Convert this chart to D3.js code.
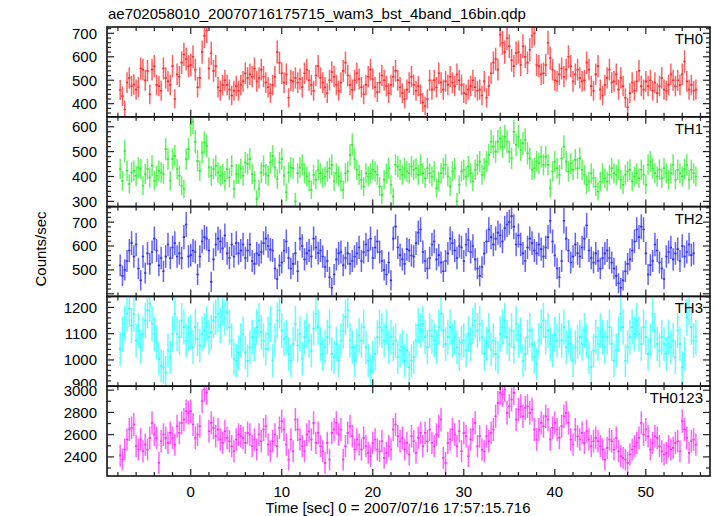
<!DOCTYPE html>
<html><head><meta charset="utf-8">
<script src="https://cdn.jsdelivr.net/npm/d3@7"></script>
<style>
body{margin:0;background:#fff}
svg{display:block}
text{font-family:"Liberation Sans",Arial,Helvetica,sans-serif;font-size:15px;fill:#000}
</style>
</head><body>
<svg id="c" width="717" height="516"></svg>
<script>
// ---------------- data ----------------
const title = "ae702058010_20070716175715_wam3_bst_4band_16bin.qdp";
const xLabel = "Time [sec] 0 = 2007/07/16 17:57:15.716";
const yLabel = "Counts/sec";
const timeStart = -7.75;   // centre of first 0.25 s bin
const binWidth = 0.25;     // seconds per bin (16 x 1/64 s)
const bandNames = ["TH0", "TH1", "TH2", "TH3", "TH0123"];

const th0 = [
458,432,375,490, 510,475,482,460, 470,550,545,500, 540,440,545,560,
480,475,455,550, 510,495,480,560, 420,525,515,575, 610,590,560,565,
600,545,470,510, 620,690,712,550, 615,540,560,470, 455,480,500,480,
460,435,455,475, 455,480,495,530, 510,525,515,550, 495,510,545,515,
490,470,445,480, 515,620,575,530, 490,525,425,500, 495,510,490,505,
470,530,545,500, 480,455,520,560, 510,490,470,445, 500,535,515,480,
455,490,540,575, 520,480,460,500, 530,505,470,440, 480,515,545,505,
470,450,490,520, 500,475,445,480, 515,540,500,470, 445,420,460,490,
515,480,455,475, 440,405,390,420, 500,460,500,470, 530,490,460,495,
480,515,490,475, 525,500,480,445, 440,460,475,500, 470,455,460,435,
495,425,475,530, 575,590,545,695, 660,620,680,645, 585,560,615,620,
565,645,600,575, 630,690,700,565, 560,525,530,565, 660,595,545,500,
495,525,550,515, 545,600,560,495, 525,545,510,495, 500,575,545,475,
455,525,560,460, 435,480,510,545, 490,495,525,460, 510,475,425,385,
445,490,455,495, 540,475,460,495, 475,500,455,490, 445,475,510,460,
455,480,525,500, 475,500,480,525, 580,495,460,480, 455,460
];

const th1 = [
430,383,503,423, 370,416,423,403, 436,430,363,410, 430,396,443,383,
403,423,416,410, 510,470,383,470, 483,430,403,363, 350,470,510,610,
620,540,463,423, 497,536,523,436, 403,430,443,416, 403,410,383,430,
396,443,350,410, 410,430,403,456, 450,470,410,383, 310,350,416,443,
410,403,456,483, 436,390,456,470, 403,336,416,436, 433,300,413,436,
447,413,400,380, 347,407,387,427, 413,393,400,420, 433,447,380,413,
400,380,347,413, 420,487,527,470, 427,407,387,360, 413,400,413,427,
420,407,360,327, 387,413,433,367, 320,447,440,427, 407,433,420,413,
440,427,433,407, 447,413,393,433, 413,400,420,353, 380,413,433,447,
400,360,420,433, 300,367,420,427, 400,440,413,380, 427,447,460,407,
433,460,487,540, 520,500,540,553, 520,560,540,500, 473,580,527,560,
507,533,547,493, 473,427,433,460, 453,480,447,480, 447,353,420,460,
433,407,473,520, 460,420,453,427, 467,433,473,427, 407,367,380,413,
393,360,340,380, 413,393,380,407, 433,413,407,427, 387,367,407,420,
427,380,400,413, 393,427,407,367, 447,460,433,413, 400,427,393,433,
413,387,413,447, 387,427,413,400, 430,447,387,427, 413,400
];

const th2 = [
519,475,500, 537,581,612,556, 606,506,456, 556,487,569, 525,575,631,
581,519,550, 494,556,606, 550,594,612,556,
569,550,637,690, 556,562,581,575, 481,556,619,637, 631,581,450,
544,606,631,619,590, 644,569,550,606, 556,612,569,581, 606,550,581,606,
537,525,569,562, 575,612,631,600,585, 581,506,462,519, 531,581,619,550,
506,525,569,494, 631,600,544,569, 581,556,631,594,570, 581,556,512,537,
469,425,481, 544,569,575,519, 550,569,525,537, 556,569,594,537,575,
606,581,631,550, 594,619,575,537, 500,481,531,456, 631,681,594,562,
544,525,587,581,560, 556,612,656,669, 575,537,506,550, 606,619,544,562,
531,494,537,569, 631,612,581,550,600, 594,537,606,625, 575,600,544,506,
475,512,569,619, 669,637,606,631, 656,644,619,675,690, 700,725,681,606,
644,606,569,537, 594,631,612,581, 569,606,587,556, 594,637,706,619,560,
506,469,537,706, 631,581,531,556, 606,569,556,594, 631,687,581,550,
531,569,537,506,550, 569,581,550,531, 506,475,444,425, 456,494,525,544,
581,619,669,637, 681,669,569,481,520, 537,606,581,531, 506,462,556,575,
594,544,569,587, 537,600,556,575, 606,562,569
];

const th3 = [
1042,1099, 1138,1176,1195, 1131,1176,1074,1112, 1048,1099,1150,
1189,1214,1138,1099, 1068,1004,978, 972,953,1036,1010, 1099,1176,1099,
1087,1150,1125,1074, 1099,1106,1048,1125, 1080,1055,1099,1112,
1138,1087,1106,1150, 1163,1176,1131,1201,1160, 1182,1125,1074,1004,
997,1029,1074,1099, 1029,997,1048,1087,1060, 1125,1150,1106,1074,
1042,1099,1138,997, 1074,1150,1189,1112,1080, 1087,1023,997,1061,
1138,1055,1099,1004, 1087,1112,1074,1036,1120, 1176,1125,1061,1023,
1048,1087,1125,1023, 1010,1061,997,1074,1110, 1163,1189,1074,1048,
997,1055,1093,1074, 1125,1048,997,959,1010, 1023,1087,1125,1112,
1074,1125,1048,1087, 1061,1074,1010,1036,1050, 997,1036,972,997,
1010,1074,1131,1112, 1138,1087,1048,1112,1090, 1074,1048,1125,1176,
1112,1061,1087,1125, 1074,1087,1048,1023,1065, 1074,1036,1099,1061,
1131,1150,1112,1138, 1087,1023,1061,1112,1040, 1074,1023,1010,1099,
1125,1150,1087,1061, 1112,1048,1138,1074,1095, 997,1023,1087,1112,
1061,1010,985,1074, 1125,1150,1087,1112, 1061,1036,1099,1074,
1112,1074,1125,1048, 1087,1061,997,1048,1070, 1087,1061,1112,1074,
1010,972,1036,1087, 1061,1112,1087,1048, 1087,1125,1061,997,
1036,1099,1176,1125, 997,1048,1087,1125,1100, 1150,1099,1061,1125,
1087,1023,1074,1176, 1112,1061,1036,1087, 1061,1023,1087,1048,
1074,1010,1112,1061, 972,1023,1163,1201, 1125,1074,1087
];

const th0123 = [
2412,2376,2466,2556, 2646,2661,2691,2496, 2466,2556,2451,2511, 2466,2571,2706,2601,
2571,2346,2541,2601, 2571,2526,2616,2571, 2511,2676,2616,2706, 2736,2811,2796,2811,
2691,2571,2601,2676, 2901,3006,2976,2631, 2706,2661,2586,2646, 2556,2526,2631,2571,
2541,2496,2451,2556, 2601,2586,2571,2526, 2616,2601,2496,2556, 2466,2601,2541,2646,
2676,2511,2451,2541, 2601,2496,2661,2721, 2646,2511,2376,2556, 2451,2736,2646,2556,
2496,2451,2601,2631, 2556,2706,2526,2616, 2496,2451,2346,2526, 2376,2616,2646,2706,
2601,2646,2376,2496, 2616,2676,2586,2466, 2556,2511,2466,2571, 2496,2436,2406,2526,
2556,2466,2451,2541, 2391,2436,2496,2466, 2646,2691,2586,2541, 2571,2466,2526,2421,
2586,2541,2436,2571, 2616,2496,2616,2541, 2646,2526,2496,2601, 2676,2736,2391,2346,
2526,2556,2646,2601, 2496,2631,2451,2616, 2586,2406,2556,2646, 2706,2496,2586,2466,
2451,2586,2541,2616, 2646,2766,2886,2976, 2961,3006,2796,2856, 2916,2976,2736,2826,
2856,2766,2841,2856, 2796,2826,2646,2556, 2646,2706,2676,2766, 2736,2556,2661,2706,
2646,2571,2676,2766, 2796,2706,2556,2511, 2646,2586,2556,2616, 2526,2631,2556,2496,
2541,2571,2541,2496, 2466,2376,2481,2556, 2541,2466,2571,2451, 2406,2391,2376,2346,
2421,2466,2496,2526, 2571,2706,2601,2646, 2586,2466,2526,2586, 2571,2496,2451,2421,
2436,2496,2466,2481, 2526,2541,2451,2721, 2646,2571,2436,2541, 2556,2511
];

const seriesValues = [th0, th1, th2, th3, th0123];
const seriesColors = ["#ff2b2b", "#2ded2d", "#2e2eff", "#2bffff", "#ff2bff"];
const yRanges = [[344, 727], [279, 640], [389, 765], [900, 1242], [2228, 3036]];
const yMajorTicks = [[400,500,600,700],[300,400,500,600],[400,500,600,700],[900,1000,1100,1200],[2400,2600,2800,3000]];
const yTickLabels = [[400,500,600,700],[300,400,500,600],[500,600,700],[900,1000,1100,1200],[2400,2600,2800,3000]];
const yMinorStep = [20, 20, 20, 20, 100];
const xTickLabels = [0, 10, 20, 30, 40, 50];
const xMinorStep = 2;

// ---------------- layout ----------------
const L = 107, R = 710, T = 27, B = 476;
const ph = (B - T) / 5;
const svg = d3.select("#c");
const x = d3.scaleLinear().domain([-9.2, 57.05]).range([L, R]);
const defs = svg.append("defs");

svg.append("text").attr("x", 108).attr("y", 19).text(title);

seriesValues.forEach((vals, i) => {
  const y0 = T + i * ph, y1 = y0 + ph;
  const y = d3.scaleLinear().domain(yRanges[i]).range([y1, y0]);
  const g = svg.append("g");
  defs.append("clipPath").attr("id", "clip" + i)
    .append("rect").attr("x", L).attr("y", y0).attr("width", R - L).attr("height", ph);

  // Poisson errors of the binned rates: sqrt(rate*dt)/dt
  const data = vals.map((v, k) => ({t: timeStart + k * binWidth, v, e: Math.sqrt(v * binWidth) / binWidth}));
  const dg = g.append("g").attr("clip-path", `url(#clip${i})`)
    .attr("stroke", seriesColors[i]);
  dg.selectAll("line.eb").data(data).join("line").attr("class", "eb")
    .attr("stroke-width", 1.5).attr("stroke-opacity", 0.75)
    .attr("x1", d => x(d.t)).attr("x2", d => x(d.t))
    .attr("y1", d => y(d.v - d.e)).attr("y2", d => y(d.v + d.e));
  dg.selectAll("line.hb").data(data).join("line").attr("class", "hb")
    .attr("stroke-width", 1.6)
    .attr("x1", d => x(d.t - binWidth / 2)).attr("x2", d => x(d.t + binWidth / 2))
    .attr("y1", d => y(d.v)).attr("y2", d => y(d.v));

  // frame
  g.append("rect").attr("x", L).attr("y", y0).attr("width", R - L).attr("height", ph)
    .attr("fill", "none").attr("stroke", "#111").attr("stroke-width", 1.6);

  // x ticks (top and bottom, inward)
  const xt = d3.range(-8, 57.01, xMinorStep);
  const tg = g.append("g").attr("stroke", "#222").attr("stroke-width", 1.2);
  xt.forEach(t => {
    const len = (t % 10 === 0) ? 7 : 4;
    tg.append("line").attr("x1", x(t)).attr("x2", x(t)).attr("y1", y1).attr("y2", y1 - len);
    tg.append("line").attr("x1", x(t)).attr("x2", x(t)).attr("y1", y0).attr("y2", y0 + len);
  });
  // y ticks (left and right, inward)
  const [d0, d1] = yRanges[i];
  const ym = d3.range(Math.ceil(d0 / yMinorStep[i]) * yMinorStep[i], d1, yMinorStep[i]);
  ym.forEach(v => {
    const len = yMajorTicks[i].includes(v) ? 7 : 4;
    tg.append("line").attr("x1", L).attr("x2", L + len).attr("y1", y(v)).attr("y2", y(v));
    tg.append("line").attr("x1", R).attr("x2", R - len).attr("y1", y(v)).attr("y2", y(v));
  });

  if (i === 4) {
    // the lower panel's label column is painted over the "900" label above, as in the reference
    svg.append("rect").attr("x", 40).attr("y", y0).attr("width", L - 42).attr("height", ph).attr("fill", "#fff");
  }
  // y tick labels
  svg.append("g").selectAll("text").data(yTickLabels[i]).join("text")
    .attr("x", 97).attr("y", d => y(d) + (i === 3 && d === 900 ? 3 : 5.4))
    .attr("text-anchor", "end").text(d => d);

  // band label
  svg.append("text").attr("x", 703).attr("y", y0 + 17).attr("text-anchor", "end").text(bandNames[i]);

  if (i === 4) {
    svg.append("g").selectAll("text").data(xTickLabels).join("text")
      .attr("x", d => x(d)).attr("y", 497).attr("text-anchor", "middle").text(d => d);
  }
});

svg.append("text").attr("x", 398).attr("y", 513).attr("text-anchor", "middle").text(xLabel);
svg.append("text").attr("transform", "translate(46,249) rotate(-90)").attr("text-anchor", "middle").text(yLabel);
</script>
</body></html>
